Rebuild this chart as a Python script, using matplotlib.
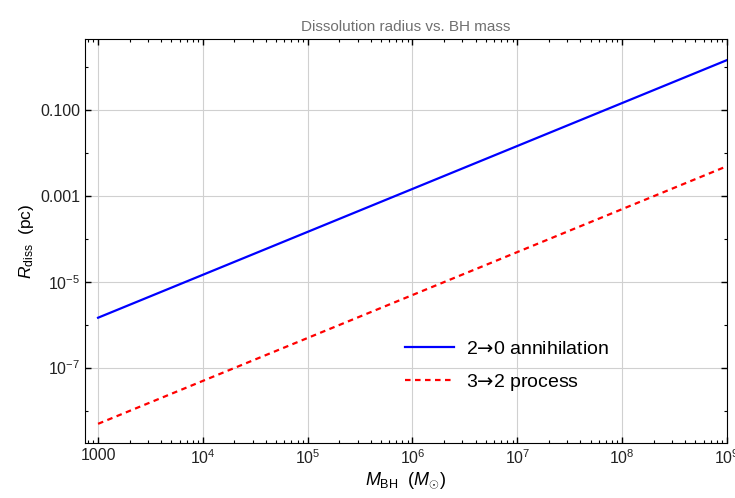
import math
import matplotlib
matplotlib.use('Agg')
import matplotlib.pyplot as plt
from matplotlib.ticker import LogLocator, FuncFormatter, NullFormatter

# black hole masses (M_sun) and dissolution radii (pc)
m_bh = [1e3, 1e4, 1e5, 1e6, 1e7, 1e8, 1e9]
r_annih = [1.45e-6, 1.45e-5, 1.45e-4, 1.45e-3, 1.45e-2, 1.45e-1, 1.45]
r_32 = [4.9e-9, 4.9e-8, 4.9e-7, 4.9e-6, 4.9e-5, 4.9e-4, 4.9e-3]

plt.rcParams['font.family'] = ['Liberation Sans', 'DejaVu Sans']
plt.rcParams['mathtext.fontset'] = 'custom'
plt.rcParams['mathtext.rm'] = 'Liberation Sans'
plt.rcParams['mathtext.it'] = 'Liberation Sans:italic'
plt.rcParams['mathtext.bf'] = 'Liberation Sans:bold'
plt.rcParams['mathtext.sf'] = 'DejaVu Sans'

fig = plt.figure(figsize=(7.35, 4.98), dpi=100)
ax = fig.add_axes([0.1156, 0.1104, 0.8734, 0.8113])

ax.plot(m_bh, r_annih, color='blue', lw=1.6, label=r'2$\mathsf{→}$0 annihilation')
ax.plot(m_bh, r_32, color='red', lw=1.6, ls=(0, (2.5, 2)), label=r'3$\mathsf{→}$2 process')

ax.set_xscale('log')
ax.set_yscale('log')
ax.set_xlim(7.5e2, 1.0e9)
ax.set_ylim(1.75e-9, 4.5)


def yfmt(v, pos):
    if v >= 1e-3:
        return '%.3f' % v
    e = int(round(math.log10(v)))
    return r'$10^{%d}$' % e


def xfmt(v, pos):
    e = int(round(math.log10(v)))
    if e == 3:
        return '1000'
    return r'$10^{%d}$' % e


ax.yaxis.set_major_locator(LogLocator(base=100.0, subs=(0.1,), numticks=20))
ax.yaxis.set_major_formatter(FuncFormatter(yfmt))
ax.yaxis.set_minor_locator(LogLocator(base=10.0, subs=(1.0,), numticks=20))
ax.yaxis.set_minor_formatter(NullFormatter())

ax.xaxis.set_major_locator(LogLocator(base=10.0, numticks=20))
ax.xaxis.set_major_formatter(FuncFormatter(xfmt))
ax.xaxis.set_minor_locator(LogLocator(base=10.0, subs=range(2, 10), numticks=20))
ax.xaxis.set_minor_formatter(NullFormatter())

ax.tick_params(which='both', direction='in', top=True, right=True, labelsize=11.5,
               labelcolor='#222222')
ax.tick_params(which='major', length=4, width=1)
ax.tick_params(which='minor', length=2.5, width=0.8)
ax.grid(True, which='major', color='#d0d0d0', lw=0.8)

ax.set_xlabel(r'$M_{\rm BH}\ \ (M_{\odot})$', fontsize=13, labelpad=3)
ax.set_ylabel(r'$R_{\rm diss}$  (pc)', fontsize=12.5, labelpad=3)
ax.set_title('Dissolution radius vs. BH mass', fontsize=11, color='#707070', pad=6)

ax.legend(loc='lower left', bbox_to_anchor=(0.487, 0.105), borderaxespad=0,
          frameon=False, fontsize=14, handlelength=2.5, labelspacing=0.7,
          handletextpad=0.6)

fig.savefig('out.png', dpi=100)
